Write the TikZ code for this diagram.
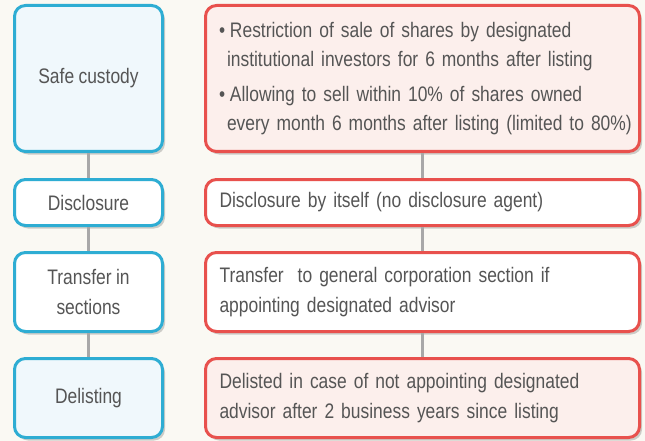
\documentclass[tikz,border=0pt]{standalone}
\usepackage{fontspec}
\setmainfont{Liberation Sans}[FakeStretch=0.83,WordSpace=0.9]
\usetikzlibrary{positioning,shadows}
\definecolor{bgcream}{HTML}{FAF9F3}
\definecolor{stepblue}{HTML}{2EADD3}
\definecolor{stepbluefill}{HTML}{F0F8FC}
\definecolor{notered}{HTML}{E8514D}
\definecolor{noteredfill}{HTML}{FCEFEC}
\definecolor{linkgrey}{HTML}{A8A8A8}
\definecolor{txtgrey}{HTML}{555555}
\tikzset{
    boxbase/.style={
        rectangle, rounded corners=11pt, line width=3pt,
        text=txtgrey, font=\fontsize{21}{29.5}\selectfont,
        drop shadow={shadow xshift=2.5pt, shadow yshift=-3pt,
                     fill=black, opacity=0.18}
    },
    stepbox/.style={boxbase, draw=stepblue, fill=white,
        minimum width=148pt, align=center},
    notebox/.style={boxbase, draw=notered, fill=white,
        minimum width=434pt, text width=409pt, inner xsep=12.5pt, align=left},
    shaded/.style={fill=#1},
    link/.style={draw=linkgrey, line width=3.5pt}
}
\newcommand{\bulletitem}{\hspace*{1pt}\makebox[11pt][l]{\textbullet}}
\newcommand{\bulletcont}{\hspace*{9pt}}

\begin{document}
\begin{tikzpicture}[x=1pt,y=-1pt]
\fill[bgcream] (0,0) rectangle (645,441);
\useasboundingbox (0,0) rectangle (645,441);
% left column
\node(safe)  [stepbox, shaded=stepbluefill, minimum height=146pt] at (88.5,78.5) {\raisebox{3pt}{Safe custody}};
\node(discl) [stepbox, minimum height=46pt, below=25pt of safe] {Disclosure};
\node(trans) [stepbox, minimum height=79pt, below=24pt of discl] {Transfer in\\sections};
\node(delist)[stepbox, shaded=stepbluefill, minimum height=79pt, below=24pt of trans] {Delisting};
% right column
\node(rsafe)  [notebox, shaded=noteredfill, minimum height=146pt, right=40pt of safe]
    {\bulletitem Restriction of sale of shares by designated\\
     \bulletcont institutional investors for 6 months after listing\\[5pt]
     \bulletitem Allowing to sell within 10\% of shares owned\\
     \bulletcont\mbox{every month 6 months after listing (limited to 80\%)}};
\node(rdiscl) [notebox, minimum height=46pt, right=40pt of discl]
    {\hspace*{1.5pt}Disclosure by itself (no disclosure agent)};
\node(rtrans) [notebox, minimum height=79pt, right=40pt of trans]
    {\hspace*{1.5pt}Transfer\ \ to general corporation section if\\
     \hspace*{1.5pt}appointing designated advisor};
\node(rdelist)[notebox, shaded=noteredfill, minimum height=79pt, right=40pt of delist]
    {\hspace*{1.5pt}Delisted in case of not appointing designated\\
     \hspace*{1.5pt}advisor after 2 business years since listing};
% connectors
\draw[link] (safe)  -- (discl);
\draw[link] (discl) -- (trans);
\draw[link] (trans) -- (delist);
\draw[link] (rsafe)  -- (rdiscl);
\draw[link] (rdiscl) -- (rtrans);
\draw[link] (rtrans) -- (rdelist);
\end{tikzpicture}
\end{document}
